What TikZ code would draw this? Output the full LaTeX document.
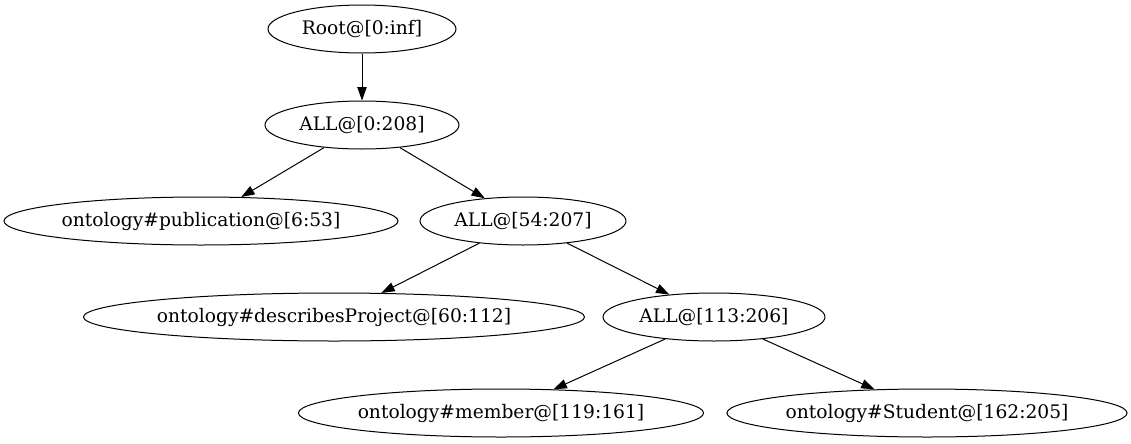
\documentclass[tikz,border=0pt]{standalone}
\usepackage{fontspec}
\setmainfont{DejaVu Serif}
\usetikzlibrary{shapes.geometric,arrows.meta}
\begin{document}
\begin{tikzpicture}[x=0.75pt,y=-0.75pt,
  tnode/.style={draw,ellipse,inner sep=0pt,line width=0.75pt,minimum height=36pt,font=\fontsize{14pt}{16pt}\selectfont},
  edge/.style={draw,line width=0.75pt,-{Triangle[length=10pt,width=7pt]}}]
\useasboundingbox (0,0) rectangle (1131,443);
\node[tnode,minimum width=141pt] (root) at (362,29) {Root@[0:inf]};
\node[tnode,minimum width=145.5pt] (all0) at (362,125) {ALL@[0:208]};
\node[tnode,minimum width=294pt] (pub) at (201,221) {ontology\#publication@[6:53]};
\node[tnode,minimum width=154.5pt] (all54) at (523,221) {ALL@[54:207]};
\node[tnode,minimum width=370.5pt] (desc) at (334,317) {ontology\#describesProject@[60:112]};
\node[tnode,minimum width=166.5pt] (all113) at (714,317) {ALL@[113:206]};
\node[tnode,minimum width=303pt] (member) at (501,413) {ontology\#member@[119:161]};
\node[tnode,minimum width=300pt] (student) at (927,413) {ontology\#Student@[162:205]};
\draw[edge] (root) -- (all0);
\draw[edge] (all0) -- (pub);
\draw[edge] (all0) -- (all54);
\draw[edge] (all54) -- (desc);
\draw[edge] (all54) -- (all113);
\draw[edge] (all113) -- (member);
\draw[edge] (all113) -- (student);
\end{tikzpicture}
\end{document}
